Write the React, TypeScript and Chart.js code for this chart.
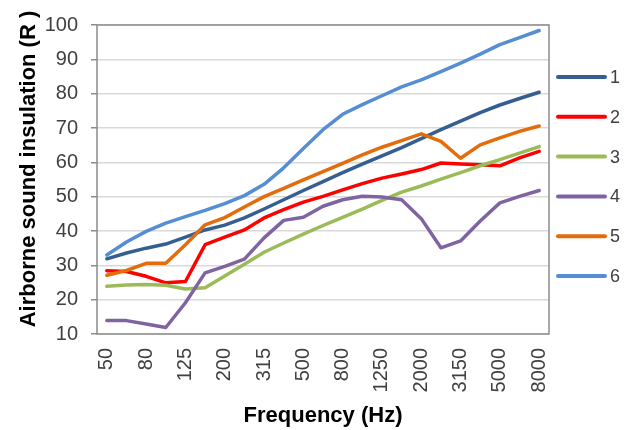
import React, { useEffect, useRef } from "react";
import { Chart, registerables } from "chart.js";

Chart.register(...registerables);

const frequencies = ["50", "63", "80", "100", "125", "160", "200", "250", "315", "400", "500", "630", "800", "1000", "1250", "1600", "2000", "2500", "3150", "4000", "5000", "6300", "8000"];

const seriesLabels = ["1", "2", "3", "4", "5", "6"];

const series1 = [31.9, 33.6, 35.0, 36.2, 38.2, 40.3, 41.7, 43.8, 46.4, 49.1, 51.8, 54.4, 57.0, 59.5, 61.9, 64.3, 66.9, 69.5, 72.0, 74.5, 76.7, 78.6, 80.4];
const series2 = [28.4, 28.2, 26.8, 24.9, 25.3, 36.0, 38.2, 40.3, 43.8, 46.2, 48.4, 50.1, 52.0, 53.8, 55.4, 56.6, 57.9, 59.8, 59.5, 59.3, 59.0, 61.3, 63.2];
const series3 = [23.9, 24.3, 24.4, 24.2, 23.1, 23.5, 26.9, 30.3, 33.8, 36.5, 39.1, 41.6, 44.0, 46.4, 48.9, 51.3, 53.1, 55.1, 57.0, 59.0, 60.8, 62.7, 64.6];
const series4 = [13.9, 13.9, 12.9, 11.9, 19.1, 27.8, 29.7, 31.8, 38.0, 43.1, 44.0, 47.2, 49.1, 50.1, 49.9, 49.1, 43.6, 35.1, 37.1, 42.9, 48.2, 50.1, 51.8];
const series5 = [27.1, 28.5, 30.6, 30.6, 36.0, 41.8, 43.9, 47.0, 50.0, 52.4, 54.9, 57.3, 59.7, 62.2, 64.4, 66.3, 68.3, 66.1, 61.2, 65.1, 67.1, 69.0, 70.6];
const series6 = [33.0, 36.8, 39.9, 42.3, 44.2, 46.0, 48.0, 50.3, 53.6, 58.4, 64.0, 69.5, 74.0, 76.8, 79.4, 82.0, 84.0, 86.4, 88.9, 91.5, 94.3, 96.3, 98.4];

const seriesColors = ["#365F91", "#FF0000", "#9BBB59", "#8064A2", "#E46C0A", "#558ED5"];

const yMin = 10;
const yMax = 100;
const yStep = 10;

const xTitle = "Frequency (Hz)";
const yTitle = "Airborne sound insulation (R )";

const FONT = "'Liberation Sans', Arial, sans-serif";

const decorPlugin = {
  id: "decor",
  beforeDatasetsDraw(chart: any) {
    const { ctx, chartArea } = chart;
    ctx.save();
    ctx.strokeStyle = "#8c8c8c";
    ctx.lineWidth = 1.5;
    ctx.strokeRect(chartArea.left, chartArea.top, chartArea.right - chartArea.left, chartArea.bottom - chartArea.top);
    ctx.restore();
  },
  afterDraw(chart: any) {
    const { ctx, chartArea } = chart;
    ctx.save();
    // axis titles
    ctx.fillStyle = "#000000";
    ctx.font = `bold 22px ${FONT}`;
    ctx.textAlign = "center";
    ctx.textBaseline = "middle";
    ctx.fillText(xTitle, (chartArea.left + chartArea.right) / 2, 416);
    ctx.save();
    ctx.translate(29, 169);
    ctx.rotate(-Math.PI / 2);
    ctx.fillText(yTitle, 0, 0);
    ctx.restore();
    // legend
    const x0 = chartArea.right + 9;
    const x1 = chartArea.right + 56;
    chart.data.datasets.forEach((ds: any, i: number) => {
      const y = 77 + i * 39.8;
      ctx.strokeStyle = ds.borderColor;
      ctx.lineWidth = 4;
      ctx.lineCap = "round";
      ctx.beginPath();
      ctx.moveTo(x0, y);
      ctx.lineTo(x1, y);
      ctx.stroke();
      ctx.fillStyle = "#404040";
      ctx.font = `18px ${FONT}`;
      ctx.textAlign = "left";
      ctx.textBaseline = "middle";
      ctx.fillText(ds.label, x1 + 5, y + 1);
    });
    ctx.restore();
  },
};

export default function App() {
  const canvasRef = useRef<HTMLCanvasElement | null>(null);

  useEffect(() => {
    const canvas = canvasRef.current;
    if (!canvas) return;
    const allSeries = [series1, series2, series3, series4, series5, series6];
    const chart = new Chart(canvas, {
      type: "line",
      data: {
        labels: frequencies,
        datasets: allSeries.map((d, i) => ({
          label: seriesLabels[i],
          data: d,
          borderColor: seriesColors[i],
          backgroundColor: seriesColors[i],
          borderWidth: 3.5,
          pointRadius: 0,
          tension: 0,
          fill: false,
          borderJoinStyle: "round" as const,
          borderCapStyle: "round" as const,
          order: allSeries.length - 1 - i,
        })),
      },
      options: {
        responsive: false,
        animation: false,
        layout: { padding: { left: 0, top: 22, right: 80, bottom: 0 } },
        plugins: {
          legend: { display: false },
          tooltip: { enabled: false },
          title: { display: false },
        },
        scales: {
          x: {
            type: "category",
            offset: true,
            grid: { display: false, drawTicks: false },
            border: { display: false },
            ticks: {
              autoSkip: false,
              maxRotation: 90,
              minRotation: 90,
              padding: 14,
              color: "#404040",
              font: { family: FONT, size: 20 },
              callback: (_v: any, idx: number) => (idx % 2 === 0 ? frequencies[idx] : ""),
            },
            afterFit: (scale: any) => {
              scale.height = 96;
            },
          },
          y: {
            min: yMin,
            max: yMax,
            grid: {
              color: "#d9d9d9",
              lineWidth: 1.5,
              tickLength: 6,
              tickColor: "#8c8c8c",
              drawTicks: true,
            },
            border: { display: false },
            ticks: {
              stepSize: yStep,
              padding: 13,
              color: "#404040",
              font: { family: FONT, size: 20 },
            },
            afterFit: (scale: any) => {
              scale.width = 97;
            },
          },
        },
      },
      plugins: [decorPlugin],
    });
    return () => chart.destroy();
  }, []);

  return (
    <div style={{ position: "fixed", left: 0, top: 0, width: 629, height: 430, background: "#fff" }}>
      <canvas ref={canvasRef} width={629} height={430} style={{ display: "block" }} />
    </div>
  );
}
